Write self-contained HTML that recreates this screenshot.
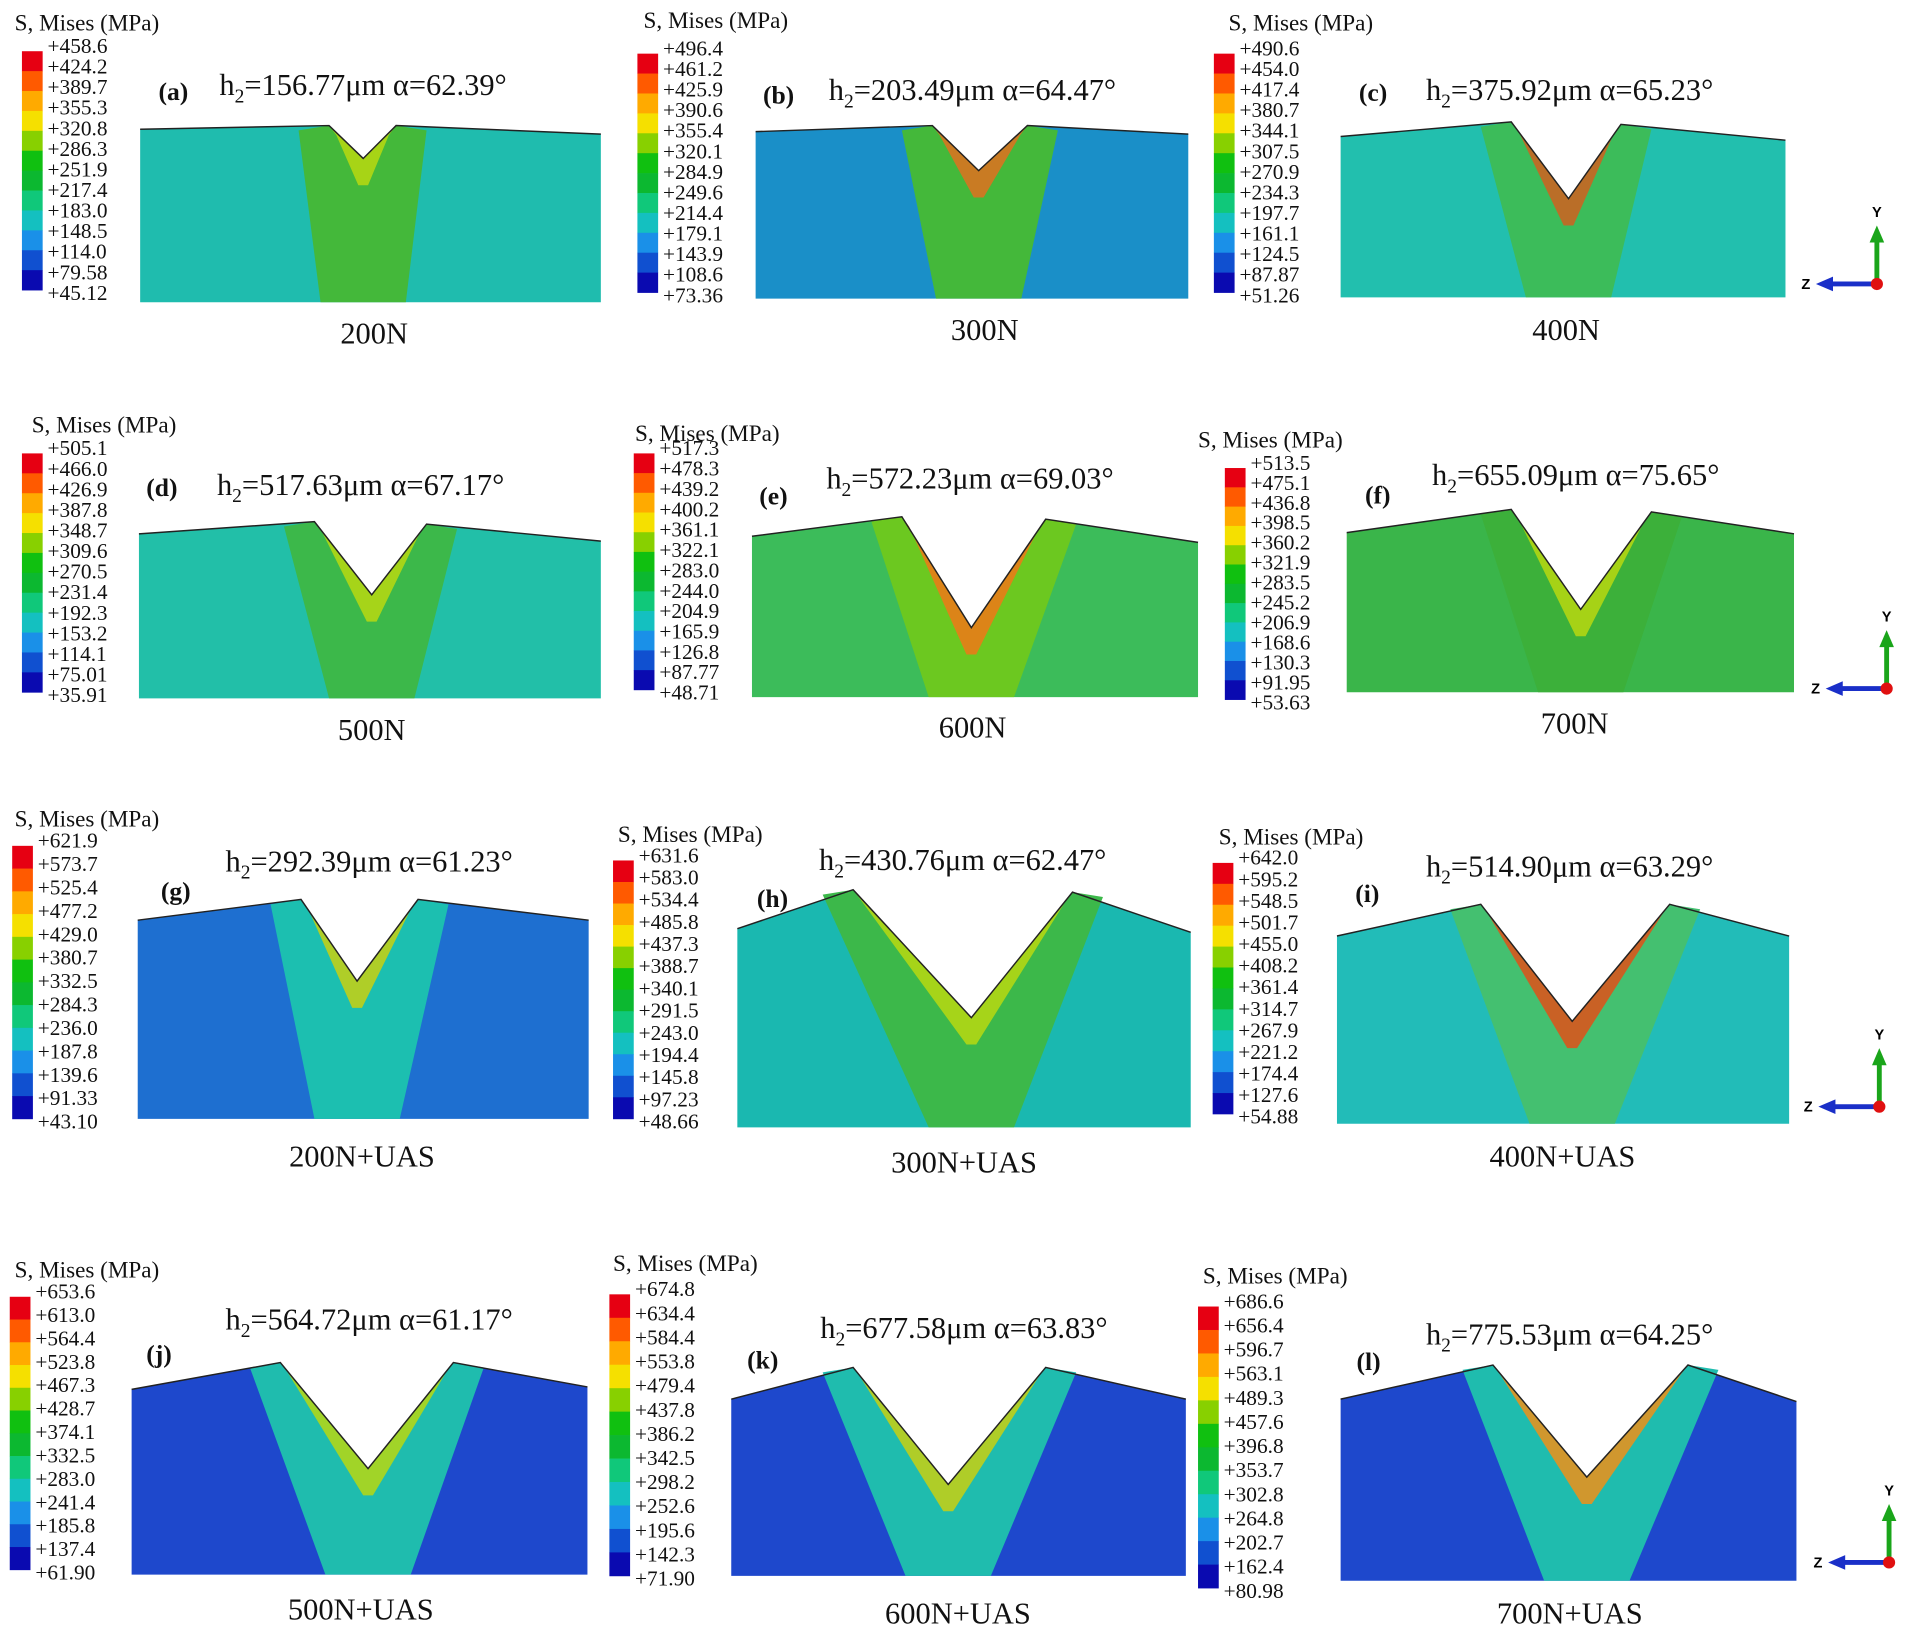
<!DOCTYPE html>
<html><head><meta charset="utf-8">
<style>
html,body{margin:0;padding:0;background:#fff;}
svg{display:block;}
</style></head>
<body>
<svg id="fig" width="1911" height="1635" viewBox="0 0 1568 1341.5" xmlns="http://www.w3.org/2000/svg"></svg>
<script>
const legendColors=["#e60012","#ff5a00","#ffaa00","#f5e000","#88d000","#10c010","#0cb830","#10c87a","#14c0c0","#1a90e8","#1050d0","#0a0ab0"];
const legA=["+458.6","+424.2","+389.7","+355.3","+320.8","+286.3","+251.9","+217.4","+183.0","+148.5","+114.0","+79.58","+45.12"];
const legB=["+496.4","+461.2","+425.9","+390.6","+355.4","+320.1","+284.9","+249.6","+214.4","+179.1","+143.9","+108.6","+73.36"];
const legC=["+490.6","+454.0","+417.4","+380.7","+344.1","+307.5","+270.9","+234.3","+197.7","+161.1","+124.5","+87.87","+51.26"];
const legD=["+505.1","+466.0","+426.9","+387.8","+348.7","+309.6","+270.5","+231.4","+192.3","+153.2","+114.1","+75.01","+35.91"];
const legE=["+517.3","+478.3","+439.2","+400.2","+361.1","+322.1","+283.0","+244.0","+204.9","+165.9","+126.8","+87.77","+48.71"];
const legF=["+513.5","+475.1","+436.8","+398.5","+360.2","+321.9","+283.5","+245.2","+206.9","+168.6","+130.3","+91.95","+53.63"];
const legG=["+621.9","+573.7","+525.4","+477.2","+429.0","+380.7","+332.5","+284.3","+236.0","+187.8","+139.6","+91.33","+43.10"];
const legH=["+631.6","+583.0","+534.4","+485.8","+437.3","+388.7","+340.1","+291.5","+243.0","+194.4","+145.8","+97.23","+48.66"];
const legI=["+642.0","+595.2","+548.5","+501.7","+455.0","+408.2","+361.4","+314.7","+267.9","+221.2","+174.4","+127.6","+54.88"];
const legJ=["+653.6","+613.0","+564.4","+523.8","+467.3","+428.7","+374.1","+332.5","+283.0","+241.4","+185.8","+137.4","+61.90"];
const legK=["+674.8","+634.4","+584.4","+553.8","+479.4","+437.8","+386.2","+342.5","+298.2","+252.6","+195.6","+142.3","+71.90"];
const legL=["+686.6","+656.4","+596.7","+563.1","+489.3","+457.6","+396.8","+353.7","+302.8","+264.8","+202.7","+162.4","+80.98"];
const letters=["a","b","c","d","e","f","g","h","i","j","k","l"];
const h2vals=["156.77","203.49","375.92","517.63","572.23","655.09","292.39","430.76","514.90","564.72","677.58","775.53"];
const alphas=["62.39","64.47","65.23","67.17","69.03","75.65","61.23","62.47","63.29","61.17","63.83","64.25"];
const loads=["200N","300N","400N","500N","600N","700N","200N+UAS","300N+UAS","400N+UAS","500N+UAS","600N+UAS","700N+UAS"];
const legends=[legA,legB,legC,legD,legE,legF,legG,legH,legI,legJ,legK,legL];
const baseCol=["#1fbcae","#1a8fc8","#22bfae","#22bfa8","#3cbc5a","#3ab54a","#1e6fd0","#1ab8b0","#22bcb8","#1e48cc","#1e48cc","#1e48cc"];
const bandCol=["#44b83a","#44b83a","#3cbc5a","#3cb84a","#6cc820","#3cb03a","#1cbfb0","#3cb84a","#44c070","#1fbcae","#1fbcae","#1fbcae"];
const hotCol=["#b9d810","#e07020","#d06020","#b9d810","#f07818","#b9d810","#c9d010","#b9d810","#e05018","#b9d810","#c9d010","#f09018"];

const L=[
 {lx:18,ly1:42,ly2:238,tx:12,ty:20,x0:115,x1:493,yL:106,yR:110,lp:[270,103],n:[298,130],rp:[325,103],bot:248,lbx:307,lby:282,hx:180,hy:78,px:130,py:82},
 {lx:523,ly1:44,ly2:240,tx:528,ty:18,x0:620,x1:975,yL:108,yR:110,lp:[765,103],n:[803,140],rp:[843,103],bot:245,lbx:808,lby:279,hx:680,hy:82,px:626,py:85},
 {lx:996,ly1:44,ly2:240,tx:1008,ty:20,x0:1100,x1:1465,yL:112,yR:115,lp:[1240,100],n:[1287,163],rp:[1330,102],bot:244,lbx:1285,lby:279,hx:1170,hy:82,px:1115,py:83},
 {lx:18,ly1:372,ly2:568,tx:26,ty:350,x0:114,x1:493,yL:438,yR:444,lp:[258,428],n:[305,488],rp:[350,430],bot:573,lbx:305,lby:607,hx:178,hy:406,px:120,py:407},
 {lx:520,ly1:372,ly2:566,tx:521,ty:357,x0:617,x1:983,yL:440,yR:445,lp:[740,424],n:[797,515],rp:[858,426],bot:572,lbx:798,lby:605,hx:678,hy:401,px:623,py:414},
 {lx:1005,ly1:384,ly2:574,tx:983,ty:362,x0:1105,x1:1472,yL:437,yR:438,lp:[1240,418],n:[1297,500],rp:[1355,420],bot:568,lbx:1292,lby:602,hx:1175,hy:398,px:1120,py:413},
 {lx:10,ly1:694,ly2:918,tx:12,ty:673,x0:113,x1:483,yL:755,yR:755,lp:[247,738],n:[293,805],rp:[343,738],bot:918,lbx:297,lby:957,hx:185,hy:715,px:132,py:738},
 {lx:503,ly1:706,ly2:918,tx:507,ty:686,x0:605,x1:977,yL:762,yR:765,lp:[700,730],n:[797,835],rp:[880,732],bot:925,lbx:791,lby:962,hx:672,hy:714,px:621,py:744},
 {lx:995,ly1:708,ly2:914,tx:1000,ty:688,x0:1097,x1:1468,yL:768,yR:768,lp:[1215,742],n:[1290,838],rp:[1370,742],bot:922,lbx:1282,lby:957,hx:1170,hy:719,px:1112,py:740},
 {lx:8,ly1:1064,ly2:1288,tx:12,ty:1043,x0:108,x1:482,yL:1140,yR:1138,lp:[230,1118],n:[302,1205],rp:[372,1118],bot:1292,lbx:296,lby:1329,hx:185,hy:1091,px:120,py:1118},
 {lx:500,ly1:1062,ly2:1293,tx:503,ty:1038,x0:600,x1:973,yL:1148,yR:1148,lp:[700,1122],n:[778,1218],rp:[858,1122],bot:1293,lbx:786,lby:1332,hx:673,hy:1098,px:613,py:1123},
 {lx:983,ly1:1072,ly2:1303,tx:987,ty:1048,x0:1100,x1:1474,yL:1148,yR:1150,lp:[1225,1120],n:[1302,1212],rp:[1385,1120],bot:1297,lbx:1288,lby:1332,hx:1170,hy:1103,px:1113,py:1124}
];
const triads=[[1540,233],[1548,565],[1542,908],[1550,1282]];

const NS="http://www.w3.org/2000/svg";
const svg=document.getElementById('fig');
function mk(tag,attrs,parent){const e=document.createElementNS(NS,tag);for(const k in attrs)e.setAttribute(k,attrs[k]);(parent||svg).appendChild(e);return e;}
function pts(a){return a.map(p=>p.join(',')).join(' ');}

L.forEach((c,i)=>{
  const g=mk('g',{});
  
  
  const t=mk('text',{x:c.tx,y:c.ty+5,'font-family':'Liberation Serif, serif','font-size':19,fill:'#111'},g);
  t.textContent='S, Mises (MPa)';
  
  
  const vals=legends[i];
  const n=vals.length-1;
  const step=(c.ly2-c.ly1)/n;
  for(let k=0;k<n;k++){
    const r=mk('rect',{x:c.lx,y:c.ly1+k*step,width:17,height:step+0.3,fill:legendColors[k]},g);
    
    
  }
  const top=c.ly1-4.5, bot=c.ly2+2;
  const tstep=(bot-top)/n;
  vals.forEach((v,k)=>{
    const tt=mk('text',{x:c.lx+21,y:top+k*tstep+6,'font-family':'Liberation Serif, serif','font-size':17.5,fill:'#111'},g);
    tt.textContent=v;
    
    
  });
  const outline=[[c.x0,c.bot],[c.x0,c.yL],c.lp,c.n,c.rp,[c.x1,c.yR],[c.x1,c.bot]];
  const body=mk('polygon',{points:pts(outline),fill:baseCol[i]},g);
  
  
  const band=[[c.lp[0]-25,c.lp[1]+4],c.lp,c.n,c.rp,[c.rp[0]+25,c.rp[1]+4],[c.n[0]+35,c.bot],[c.n[0]-35,c.bot]];
  const b=mk('polygon',{points:pts(band),fill:bandCol[i]},g);
  
  
  const hot=[c.lp,c.n,c.rp,[c.rp[0]-6,c.rp[1]+8],[c.n[0]+4,c.n[1]+22],[c.n[0]-4,c.n[1]+22],[c.lp[0]+6,c.lp[1]+8]];
  const h=mk('polygon',{points:pts(hot),fill:hotCol[i],opacity:0.85},g);
  
  
  const ol=mk('polyline',{points:pts([[c.x0,c.yL],c.lp,c.n,c.rp,[c.x1,c.yR]]),fill:'none',stroke:'#222','stroke-width':1.2},g);
  
  
  const pl=mk('text',{x:c.px,y:c.py,'font-family':'Liberation Serif, serif','font-size':21,'font-weight':'bold',fill:'#111'},g);
  pl.textContent='('+letters[i]+')';
  
  
  const ht=mk('text',{x:c.hx,y:c.hy,'font-family':'Liberation Serif, serif','font-size':25,fill:'#111'},g);
  ht.innerHTML='h<tspan font-size="16" dy="6">2</tspan><tspan dy="-6">='+h2vals[i]+'μm  α='+alphas[i]+'°</tspan>';
  
  
  const lb=mk('text',{x:c.lbx,y:c.lby,'text-anchor':'middle','font-family':'Liberation Serif, serif','font-size':25,fill:'#111'},g);
  lb.textContent=loads[i];
  
  
});

triads.forEach(([x,y])=>{
  const g=mk('g',{});
  
  
  mk('line',{x1:x,y1:y,x2:x,y2:y-38,stroke:'#1aa51a','stroke-width':4},g);
  mk('polygon',{points:`${x-6},${y-34} ${x+6},${y-34} ${x},${y-48}`,fill:'#1aa51a'},g);
  mk('line',{x1:x,y1:y,x2:x-40,y2:y,stroke:'#1a2fc8','stroke-width':4},g);
  mk('polygon',{points:`${x-36},${y-6} ${x-36},${y+6} ${x-50},${y}`,fill:'#1a2fc8'},g);
  mk('circle',{cx:x,cy:y,r:5,fill:'#e01010'},g);
  const ty=mk('text',{x:x-4,y:y-55,'font-family':'Liberation Sans, sans-serif','font-size':12,'font-weight':'bold'},g);ty.textContent='Y';
  const tz=mk('text',{x:x-62,y:y+4,'font-family':'Liberation Sans, sans-serif','font-size':12,'font-weight':'bold'},g);tz.textContent='Z';
});
</script>
</body></html>
